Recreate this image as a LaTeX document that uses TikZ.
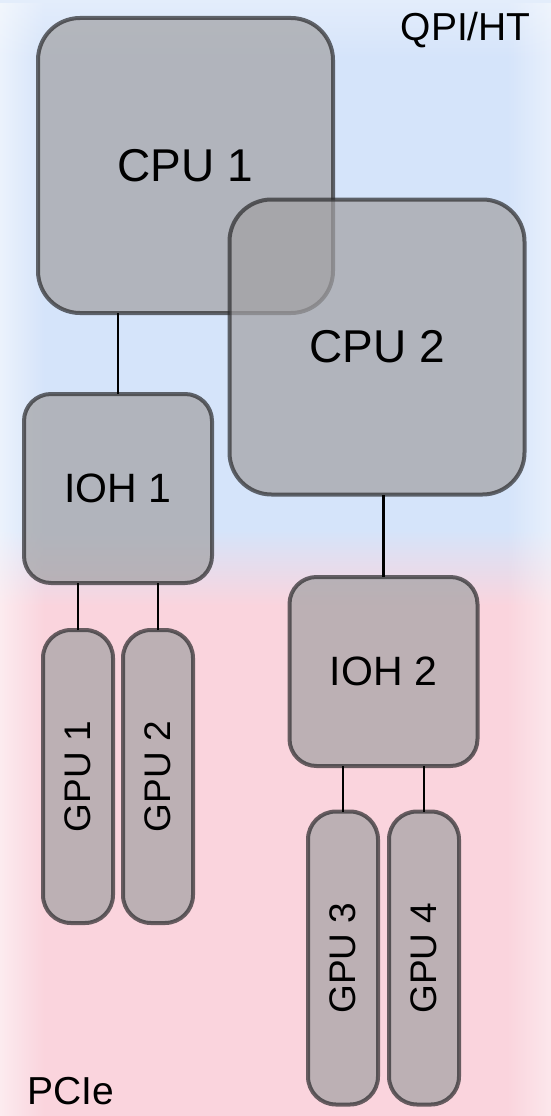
\documentclass[tikz,border=0pt]{standalone}
\usepackage{fontspec}
\setmainfont{Liberation Sans}
\usetikzlibrary{fadings}
\definecolor{bgblue}{RGB}{213,228,250}
\definecolor{bgpink}{RGB}{250,212,221}
\definecolor{boxfill}{RGB}{162,161,163}
\definecolor{boxline}{RGB}{42,42,44}
\tikzset{
  unitbox/.style={draw=boxline, fill=boxfill, opacity=0.7, text opacity=1,
    line width=4pt, inner sep=0pt, text=black},
  cpubox/.style={unitbox, minimum width=295pt, minimum height=295pt,
    rounded corners=42pt, font=\fontsize{46}{50}\selectfont},
  iohbox/.style={unitbox, minimum width=188pt, minimum height=189pt,
    rounded corners=27pt, font=\fontsize{41}{45}\selectfont},
  gpubox/.style={unitbox, rotate=90, minimum width=293pt, minimum height=70pt,
    rounded corners=28pt, font=\fontsize{37}{40}\selectfont},
  link/.style={draw=black, line width=2.5pt},
  tag/.style={inner sep=0pt, font=\fontsize{39}{42}\selectfont}
}
\begin{document}
\begin{tikzpicture}[x=1pt, y=-1pt]
\useasboundingbox (0,0) rectangle (551,1116);
% background
\fill[bgblue] (0,0) rectangle (551,531);
\shade[top color=bgblue, bottom color=bgpink] (0,530) rectangle (551,606);
\fill[bgpink] (0,605) rectangle (551,1116);
\fill[white, path fading=east, fill opacity=0.55] (0,0) rectangle (45,1116);
\fill[white, path fading=west, fill opacity=0.45] (506,0) rectangle (551,1116);
\fill[white, path fading=south, fill opacity=0.35] (0,0) rectangle (551,60);

% nodes
\node[cpubox] (cpu1) at (185.5,165.5) {CPU 1};
\node[cpubox] (cpu2) at (377,347) {CPU 2};
\node[iohbox] (ioh1) at (118,488.5) {IOH 1};
\node[iohbox] (ioh2) at (383.5,671.5) {IOH 2};
\node[gpubox] (gpu1) at (78,776.5) {GPU 1};
\node[gpubox] (gpu2) at (158,776.5) {GPU 2};
\node[gpubox] (gpu3) at (343,958) {GPU 3};
\node[gpubox] (gpu4) at (424,958) {GPU 4};

% connectors
\draw[link] ([yshift=-2pt]ioh1.north) -- ([yshift=2pt]ioh1.north |- cpu1.south);
\draw[link] ([yshift=-2pt]ioh2.north) -- ([yshift=2pt]ioh2.north |- cpu2.south);
\draw[link] ([yshift=-2pt]gpu1.east) -- ([yshift=2pt]gpu1.east |- ioh1.south);
\draw[link] ([yshift=-2pt]gpu2.east) -- ([yshift=2pt]gpu2.east |- ioh1.south);
\draw[link] ([yshift=-2pt]gpu3.east) -- ([yshift=2pt]gpu3.east |- ioh2.south);
\draw[link] ([yshift=-2pt]gpu4.east) -- ([yshift=2pt]gpu4.east |- ioh2.south);

% labels
\node[tag, anchor=base east] (qpi) at (531,41) {QPI/HT};
\node[tag, anchor=base west] (pcie) at (27,1104) {PCIe};
\end{tikzpicture}
\end{document}
